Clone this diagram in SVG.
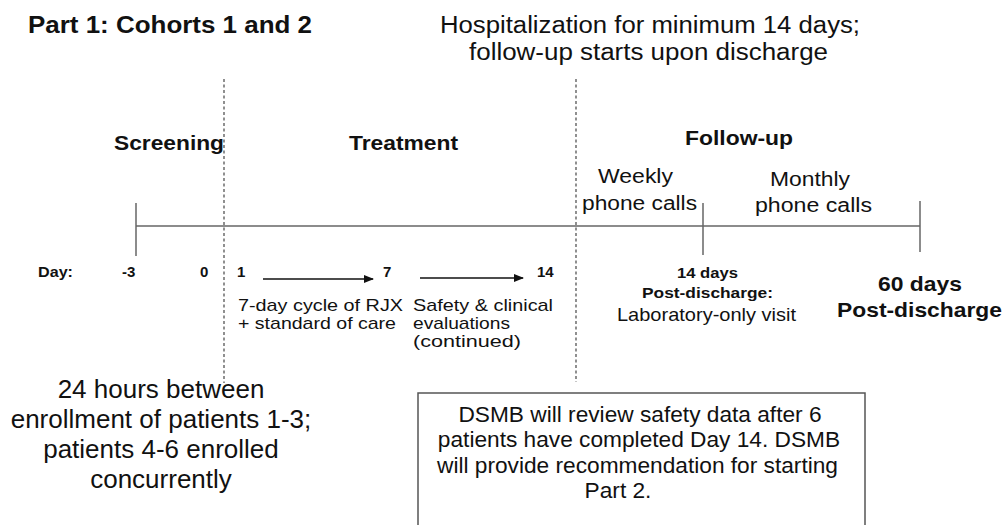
<svg xmlns="http://www.w3.org/2000/svg" width="1004" height="525" viewBox="0 0 1004 525">
  <style>
    text { font-family: "Liberation Sans", Arial, Helvetica, sans-serif; fill: #111; }
    .b { font-weight: bold; }
    .title { font-size: 23px; }
    .phase { font-size: 21px; font-weight: bold; }
    .call { font-size: 20px; }
    .day { font-size: 15px; font-weight: bold; }
    .note { font-size: 18.5px; }
    .small { font-size: 17px; }
    .big { font-size: 26px; }
    .box { font-size: 22.7px; }
    .axis { stroke: #666; stroke-width: 1.5; fill: none; }
    .divider { stroke: #555; stroke-width: 1.3; stroke-dasharray: 3 2.5; fill: none; }
    .arrow { stroke: #111; stroke-width: 1.3; fill: none; marker-end: url(#head); }
  </style>
  <defs>
    <marker id="head" viewBox="0 0 10 8" refX="9" refY="4" markerWidth="10" markerHeight="8" markerUnits="userSpaceOnUse" orient="auto">
      <path d="M0,0 L10,4 L0,8 Z" fill="#111"/>
    </marker>
  </defs>

  <rect width="1004" height="525" fill="#fff"/>

  <!-- headings -->
  <g id="title">
    <text class="title b" x="28" y="33" textLength="284" lengthAdjust="spacingAndGlyphs">Part 1: Cohorts 1 and 2</text>
  </g>
  <g id="hospitalization">
    <text class="title" x="440" y="33" textLength="420" lengthAdjust="spacingAndGlyphs">Hospitalization for minimum 14 days;</text>
    <text class="title" x="469" y="60" textLength="359" lengthAdjust="spacingAndGlyphs">follow-up starts upon discharge</text>
  </g>

  <!-- phase labels -->
  <g id="screening"><text class="phase" x="114" y="150" textLength="110" lengthAdjust="spacingAndGlyphs">Screening</text></g>
  <g id="treatment"><text class="phase" x="349" y="150" textLength="109" lengthAdjust="spacingAndGlyphs">Treatment</text></g>
  <g id="follow-up"><text class="phase" x="685" y="145" textLength="108" lengthAdjust="spacingAndGlyphs">Follow-up</text></g>

  <g id="weekly">
    <text class="call" x="598" y="183" textLength="75" lengthAdjust="spacingAndGlyphs">Weekly</text>
    <text class="call" x="582" y="210" textLength="115" lengthAdjust="spacingAndGlyphs">phone calls</text>
  </g>
  <g id="monthly">
    <text class="call" x="770" y="186" textLength="80" lengthAdjust="spacingAndGlyphs">Monthly</text>
    <text class="call" x="755" y="212" textLength="117" lengthAdjust="spacingAndGlyphs">phone calls</text>
  </g>

  <!-- timeline, phase dividers and day arrows -->
  <g id="connectors">
    <line class="divider" x1="224" y1="79" x2="224" y2="383"/>
    <line class="divider" x1="576" y1="79" x2="576" y2="382"/>
    <line class="axis" x1="136" y1="226" x2="920" y2="226"/>
    <line class="axis" x1="136" y1="203" x2="136" y2="256"/>
    <line class="axis" x1="703" y1="203" x2="703" y2="255"/>
    <line class="axis" x1="920" y1="201" x2="920" y2="252"/>
    <line class="arrow" x1="263" y1="279" x2="373" y2="279"/>
    <line class="arrow" x1="420" y1="278" x2="523" y2="278"/>
  </g>

  <!-- day markers -->
  <g id="days">
    <text class="day" x="38" y="277" textLength="35" lengthAdjust="spacingAndGlyphs">Day:</text>
    <text class="day" x="122" y="277">-3</text>
    <text class="day" x="200" y="277">0</text>
    <text class="day" x="237" y="277">1</text>
    <text class="day" x="383" y="277">7</text>
    <text class="day" x="537" y="277">14</text>
  </g>

  <g id="cycle">
    <text class="small" x="238" y="311" textLength="165" lengthAdjust="spacingAndGlyphs">7-day cycle of RJX</text>
    <text class="small" x="238" y="329" textLength="158" lengthAdjust="spacingAndGlyphs">+ standard of care</text>
  </g>
  <g id="evaluations">
    <text class="small" x="413" y="311" textLength="140" lengthAdjust="spacingAndGlyphs">Safety &amp; clinical</text>
    <text class="small" x="413" y="329" textLength="97" lengthAdjust="spacingAndGlyphs">evaluations</text>
    <text class="small" x="413" y="347" textLength="108" lengthAdjust="spacingAndGlyphs">(continued)</text>
  </g>

  <g id="visit-14">
    <text class="day" x="677" y="278" textLength="61" lengthAdjust="spacingAndGlyphs">14 days</text>
    <text class="day" x="642" y="298" textLength="131" lengthAdjust="spacingAndGlyphs">Post-discharge:</text>
    <text class="note" x="617" y="321" textLength="179" lengthAdjust="spacingAndGlyphs">Laboratory-only visit</text>
  </g>
  <g id="visit-60">
    <text class="b" style="font-size:20.5px" x="878" y="291" textLength="84" lengthAdjust="spacingAndGlyphs">60 days</text>
    <text class="b" style="font-size:20.5px" x="837" y="317" textLength="165" lengthAdjust="spacingAndGlyphs">Post-discharge</text>
  </g>

  <!-- enrollment note -->
  <g id="enrollment" text-anchor="middle">
    <text class="big" x="161" y="398">24 hours between</text>
    <text class="big" x="161" y="428">enrollment of patients 1-3;</text>
    <text class="big" x="161" y="458">patients 4-6 enrolled</text>
    <text class="big" x="161" y="488">concurrently</text>
  </g>

  <!-- DSMB review box -->
  <g id="dsmb">
    <rect x="418" y="393" width="447" height="145" fill="#fff" stroke="#555" stroke-width="1.5"/>
    <g text-anchor="middle">
      <text class="box" x="640" y="421.5">DSMB will review safety data after 6</text>
      <text class="box" x="639" y="446.5">patients have completed Day 14. DSMB</text>
      <text class="box" x="637.5" y="472.5">will provide recommendation for starting</text>
      <text class="box" x="618" y="498">Part 2.</text>
    </g>
  </g>
</svg>
